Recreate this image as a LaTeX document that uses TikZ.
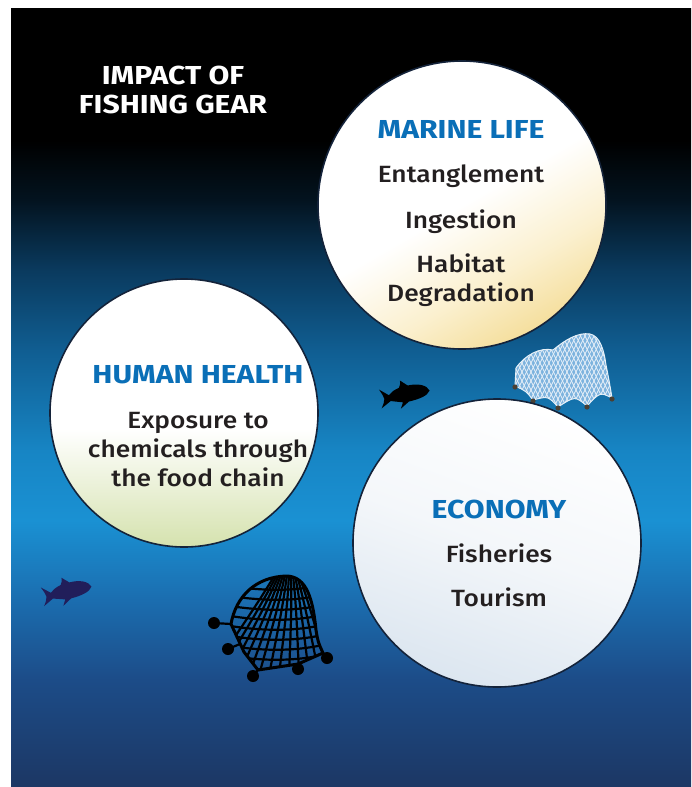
\documentclass[tikz,border=0pt]{standalone}
\usepackage{fontspec}
\setmainfont{Fira Sans}
\newfontfamily\headfont{Fira Sans}[FakeStretch=1.16]
\newfontfamily\medfont{Fira Sans Medium}[FakeStretch=1.12]
\usetikzlibrary{shapes.geometric}

% sea colours, top to bottom
\definecolor{seaA}{HTML}{000000}
\definecolor{seaB}{HTML}{03131F}
\definecolor{seaC}{HTML}{0A3A5E}
\definecolor{seaD}{HTML}{105E92}
\definecolor{seaE}{HTML}{1785C4}
\definecolor{seaF}{HTML}{1A91D3}
\definecolor{seaG}{HTML}{1B6DAF}
\definecolor{seaH}{HTML}{1C4C88}
\definecolor{seaI}{HTML}{1C3764}
% bubble tints
\definecolor{sandtint}{HTML}{F5DF9E}
\definecolor{sandsoft}{HTML}{FBF0CF}
\definecolor{leaftint}{HTML}{D5E2AE}
\definecolor{leafsoft}{HTML}{E8EFD3}
\definecolor{skytint}{HTML}{DCE6F0}
\definecolor{skysoft}{HTML}{F4F7FA}
\definecolor{rimdark}{HTML}{14233A}
% text and drawings
\definecolor{headblue}{HTML}{0A6FB7}
\definecolor{bodyink}{HTML}{231F20}
\definecolor{navyfish}{HTML}{211E5A}
\definecolor{netfill}{HTML}{7DB3DE}
\definecolor{netmesh}{HTML}{E6F0F8}
\definecolor{sinker}{HTML}{4A4034}

\pgfdeclareverticalshading{seabg}{100bp}{%
  color(0bp)=(seaI); color(25bp)=(seaI); color(31.9bp)=(seaH);
  color(37bp)=(seaG); color(42.1bp)=(seaF); color(46.6bp)=(seaE);
  color(53bp)=(seaD); color(58.2bp)=(seaC); color(62.7bp)=(seaB);
  color(66.5bp)=(seaA); color(100bp)=(seaA)}
\pgfdeclareverticalshading{sandfill}{100bp}{%
  color(0bp)=(sandtint); color(25bp)=(sandtint); color(36bp)=(sandsoft);
  color(50bp)=(white); color(100bp)=(white)}
\pgfdeclareverticalshading{leaffill}{100bp}{%
  color(0bp)=(leaftint); color(25bp)=(leaftint); color(35bp)=(leafsoft);
  color(47bp)=(white); color(100bp)=(white)}
\pgfdeclareverticalshading{skyfill}{100bp}{%
  color(0bp)=(skytint); color(25bp)=(skytint); color(50bp)=(skysoft);
  color(75bp)=(white); color(100bp)=(white)}

\tikzset{
  bubble/.style={circle, inner sep=0pt, draw=rimdark, line width=1.6pt},
  headline/.style={anchor=base, text=headblue, font=\headfont\bfseries\fontsize{26}{30}\selectfont},
  itemline/.style={anchor=base, text=bodyink, font=\medfont\fontsize{23.5}{28}\selectfont},
  titleline/.style={anchor=base, text=white, font=\headfont\bfseries\fontsize{26}{30}\selectfont},
  netline/.style={line width=2.2pt, black, line cap=round, line join=round},
  lightmesh/.style={line width=0.7pt, netmesh},
  fishbody/.pic={
    \fill (25,-1) .. controls (23,-7) and (14,-10) .. (4,-9)
      -- (-3,-15) .. controls (-3,-12) .. (-5,-8)
      .. controls (-11,-6) .. (-16,-2)
      -- (-25,-9) .. controls (-22,-3) .. (-21,1)
      .. controls (-22,5) .. (-25,10)
      -- (-15,4) .. controls (-9,6) .. (-3,7)
      -- (-6,13) -- (3,7)
      .. controls (14,6) and (22,4) .. (25,-1) -- cycle;
  }
}

\begin{document}
\begin{tikzpicture}[x=1pt,y=-1pt]
\useasboundingbox (0,0) rectangle (691,787);

% sea backdrop
\shade[shading=seabg] (11,8) rectangle (691,787);

% fish
\pic[navyfish, rotate=10] (fishleft) at (67,592) {fishbody};
\pic[black, rotate=8] (fishright) at (405,395) {fishbody};

% dark net with sinkers
\def\darknet{(231,624) .. controls (236,596) and (256,577) .. (286,576)
    .. controls (307,576) and (313,600) .. (316,630)
    .. controls (318,642) .. (323,653)
    -- (298,664) -- (258,670) -- (244,652) -- cycle}
\begin{scope}
  \clip \darknet;
  \foreach \k in {-7,...,7}
    \draw[netline] (290,550) .. controls ({288+\k*4},600) .. ({276+\k*12},700);
  \foreach \j in {0,...,9}
    \draw[netline] (200,{580+\j*10}) .. controls (250,{592+\j*10}) and (300,{594+\j*10}) .. (340,{580+\j*10});
\end{scope}
\draw[line width=3pt, line join=round, line cap=round] \darknet;
\coordinate (sinkA) at (214,623);
\coordinate (sinkB) at (228,649);
\coordinate (sinkC) at (253,676);
\coordinate (sinkD) at (298,669);
\coordinate (sinkE) at (327,658);
\draw[netline] (231,624) -- (sinkA);
\draw[netline] (240,644) -- (sinkB);
\draw[netline] (258,670) -- (sinkC);
\draw[netline] (298,664) -- (sinkD);
\draw[netline] (323,653) -- (sinkE);
\foreach \s in {sinkA,sinkB,sinkC,sinkD,sinkE}
  \fill (\s) circle (6pt);

% light net with small sinkers
\def\lightnet{(515,386) -- (516,368) .. controls (525,355) and (540,347) .. (553,350)
  .. controls (565,340) and (578,332) .. (590,334)
  .. controls (600,336) and (604,350) .. (606,365)
  .. controls (609,380) .. (612,398)
  .. controls (600,392) .. (587,406)
  .. controls (575,396) .. (558,407)
  .. controls (548,396) .. (533,400)
  .. controls (526,391) .. (515,386) -- cycle}
\fill[netfill] \lightnet;
\begin{scope}
  \clip \lightnet;
  \foreach \k in {0,...,40}
    \draw[lightmesh] ({480+\k*4.5},420) -- ({530+\k*4.5},320);
  \foreach \k in {0,...,40}
    \draw[lightmesh] ({460+\k*4.5},320) -- ({510+\k*4.5},420);
\end{scope}
\draw[netmesh, line width=1pt, line join=round] \lightnet;
\foreach \p in {(515,387),(533,401),(558,408),(587,407),(612,399)}
  \fill[sinker] \p circle (2.6pt);

% bubbles
\node[bubble, minimum size=288pt, shading=sandfill, shading angle=30] (marine) at (462,205) {};
\node[bubble, minimum size=268pt, shading=leaffill] (health) at (184,413) {};
\node[bubble, minimum size=288pt, shading=skyfill, shading angle=-20] (economy) at (497,543) {};

% title
\node[titleline] (titleA) at (173,84) {IMPACT OF};
\node[titleline] (titleB) at (173,113) {FISHING GEAR};

% marine life
\node[headline] (marineHead) at (461,138) {MARINE LIFE};
\node[itemline] (marineA) at (461,182) {Entanglement};
\node[itemline] (marineB) at (461,228) {Ingestion};
\node[itemline] (marineC) at (461,272) {Habitat};
\node[itemline] (marineD) at (461,301) {Degradation};

% human health
\node[headline] (healthHead) at (198,383) {HUMAN HEALTH};
\node[itemline] (healthA) at (198,428) {Exposure to};
\node[itemline] (healthB) at (198,457) {chemicals through};
\node[itemline] (healthC) at (198,486) {the food chain};

% economy
\node[headline] (economyHead) at (499,518) {ECONOMY};
\node[itemline] (economyA) at (499,562) {Fisheries};
\node[itemline] (economyB) at (499,606) {Tourism};
\end{tikzpicture}
\end{document}
